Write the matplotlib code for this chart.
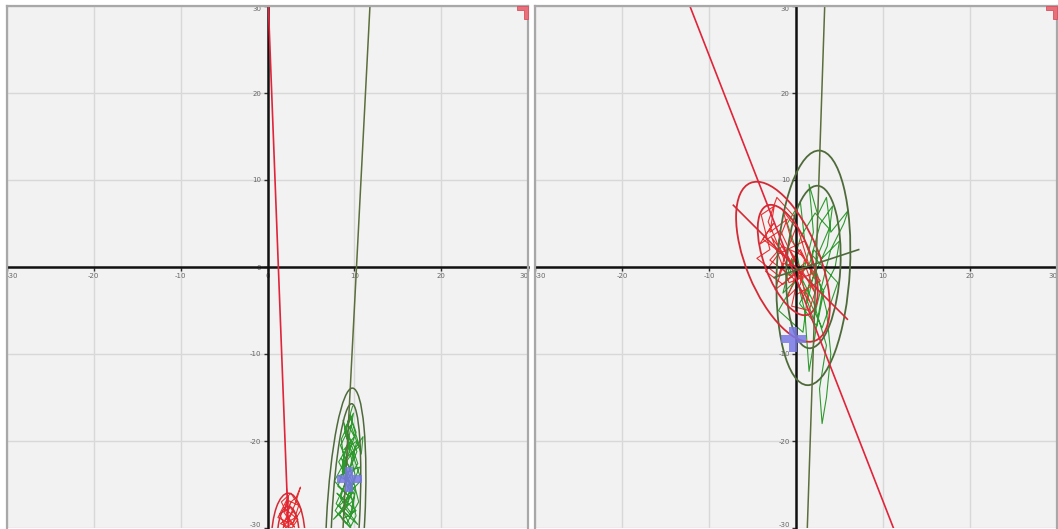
import matplotlib
matplotlib.use("Agg")
import matplotlib.pyplot as plt
from matplotlib.patches import Ellipse, Polygon
from matplotlib.lines import Line2D

# ---- axis setup ----
axis_limit = 30
tick_values = [-30, -20, -10, 0, 10, 20, 30]
tick_labels = ["-30", "-20", "-10", "0", "10", "20", "30"]

# ---- left panel data ----
left_red_line_x = [0.1, 2.4]
left_red_line_y = [30.0, -30.0]
left_green_line_x = [11.8, 8.7]
left_green_line_y = [30.0, -30.0]

left_red_trace_x = [2.2, 2.5, 2.2, 3.0, 1.8, 2.7, 3.3, 3.8, 3.2, 2.6, 1.5, 2.8, 3.5,
                    2.0, 2.4, 1.2, 2.9, 3.6, 2.3, 1.9, 3.1, 2.5, 1.6, 2.7, 3.9, 3.0,
                    2.1, 1.4, 2.6, 3.4, 2.2]
left_red_trace_y = [-25.5, -27.5, -29.0, -28.0, -30.0, -27.0, -26.5, -25.3, -27.2, -28.6,
                    -29.5, -30.0, -29.0, -27.8, -26.4, -28.8, -29.6, -27.4, -26.8, -28.2,
                    -29.9, -28.9, -27.0, -26.0, -27.9, -29.3, -30.0, -28.4, -27.6, -28.7,
                    -29.4]

left_green_trace_x = [9.8, 9.2, 10.0, 8.8, 10.3, 9.5, 8.5, 9.9, 8.2, 10.6, 9.0, 8.0, 10.2,
                      8.6, 9.6, 8.3, 9.4, 10.8, 9.8, 8.9, 9.5, 10.2, 8.6, 9.3, 7.8, 9.1,
                      10.5, 9.7, 8.4, 9.6, 10.8, 11.0, 9.2, 8.1, 9.9, 7.6, 8.8, 10.1,
                      9.4, 8.7, 10.4, 9.0, 7.9, 9.5, 10.0, 8.6, 9.3, 9.9, 8.9, 10.3,
                      9.1, 8.4, 9.7, 10.1, 8.7, 9.5, 8.2, 9.8, 9.0, 10.4, 8.8, 9.4,
                      7.7, 9.2, 10.6, 9.6, 8.5, 9.0, 9.8, 8.3, 9.6, 10.2, 9.3]
left_green_trace_y = [-16.0, -18.0, -19.5, -21.0, -20.0, -23.0, -22.0, -25.0, -24.0,
                      -23.0, -27.0, -26.0, -28.0, -29.0, -30.0, -28.5, -26.0, -24.5,
                      -21.5, -19.0, -17.0, -19.0, -23.5, -25.5, -28.0, -29.5, -27.0,
                      -23.8, -20.5, -18.2, -21.5, -19.5, -22.2, -25.2, -26.8, -29.0,
                      -27.6, -24.0, -20.8, -17.6, -22.6, -24.8, -27.2, -28.8, -26.2,
                      -22.8, -20.0, -16.8, -18.6, -21.2, -24.2, -26.6, -28.4, -25.8,
                      -23.2, -20.2, -22.4, -25.6, -27.8, -29.6, -28.2, -26.4, -24.6,
                      -21.8, -20.6, -17.4, -19.8, -23.6, -26.0, -27.4, -29.8, -28.6,
                      -25.0]

left_blue_x = [9.4]
left_blue_y = [-24.4]

# ellipses: centre x, centre y, width, height, angle
left_ellipses_red = [(2.4, -31.6, 3.9, 11.2, 0.0), (2.4, -31.0, 2.5, 7.0, 0.0)]
left_ellipses_green = [(9.0, -29.0, 4.4, 30.2, -3.0), (9.0, -29.0, 3.2, 26.6, -3.0)]

# ---- right panel data ----
right_red_line_x = [-12.2, 11.2]
right_red_line_y = [30.0, -30.0]
right_green_line_x = [3.3, 1.3]
right_green_line_y = [30.0, -30.0]
right_red_seg_x = [-7.2, 5.9]
right_red_seg_y = [7.1, -6.0]
right_green_seg_x = [-2.5, 7.2]
right_green_seg_y = [-1.2, 2.0]

right_red_trace_x = [-0.5, -2.0, -1.0, -3.0, -2.5, -4.0, -3.0, -4.5, -2.0, -1.0, 0.0,
                     -1.5, -0.5, 1.0, 0.5, -1.0, 0.0, 2.0, 1.0, -2.0, -3.5, -1.5, 0.5,
                     -0.5, 1.5, 2.5, 0.5, -1.0, -3.2, -2.2, -0.2, 1.8, -0.8, -2.8, -1.2,
                     -3.8, -2.6, -4.2, -1.8, 0.8, -0.6, 2.2, 1.2, -1.4, -2.4, 0.2, 1.6,
                     -0.4, -3.0, -1.6, 0.6, 2.8, 0.0]
right_red_trace_y = [0.5, 3.0, 5.5, 4.0, 7.0, 6.0, 2.0, 1.0, -1.0, 2.0, 4.5, 6.5, 3.0,
                     1.0, -2.0, -3.5, -1.0, 0.5, 3.0, 1.5, -0.5, -2.0, 0.0, -4.5, -5.0,
                     -2.0, 2.0, 0.0, 5.2, 8.0, 5.8, -0.8, -1.8, 3.4, 1.2, 3.2, 5.0,
                     2.6, 4.2, -1.4, 1.8, -3.0, -0.2, 0.4, -2.6, -0.6, -4.0, -1.2, 0.8,
                     2.4, 1.4, -1.6, -3.2]

right_green_trace_x = [1.0, 2.0, 1.5, 2.5, 3.5, 4.0, 6.0, 5.5, 4.0, 3.0, 2.0, 1.0, 0.0,
                       -1.0, 0.5, 1.0, 2.5, 3.5, 4.0, 3.5, 3.0, 2.7, 3.5, 2.0, 0.5, -1.5,
                       -0.5, 1.0, 1.5, 2.0, 3.0, 4.5, 5.0, 3.0, 2.0, 0.8, -2.0, -0.3, 1.6,
                       2.8, 4.2, 3.6, 1.8, 0.4, 2.4, 3.2, 1.2, -0.8, 0.6, 2.2, 3.8, 2.6,
                       1.4, 3.0, 4.8, 2.0]
right_green_trace_y = [0.0, 4.0, 9.5, 6.0, 8.0, 4.0, 6.5, 5.0, 2.0, -2.0, -6.0, -3.0,
                       2.0, 5.0, 7.5, 3.0, -1.0, -5.0, -10.0, -15.0, -18.0, -14.0, -9.0,
                       -4.0, -1.0, -3.0, 1.0, -5.0, -12.0, -9.0, -3.0, 0.0, 3.0, 1.0,
                       2.0, -7.5, -5.0, -2.0, 0.5, 5.0, 7.0, 2.4, -1.6, -4.2, -6.8,
                       -2.8, 0.6, -1.0, 3.6, 6.2, 4.4, 1.6, -3.6, -7.0, -1.8, 1.2]

right_blue_x = [-0.3]
right_blue_y = [-8.3]

right_ellipses_red = [(-1.5, 0.6, 19.6, 8.4, -67.6), (-0.95, 0.8, 13.4, 5.4, -69.5)]
right_ellipses_green = [(2.0, -0.1, 8.4, 27.0, -3.0), (2.0, 0.0, 6.2, 18.7, -3.0)]

# ---- styles ----
BG = "#f2f2f2"
GRID = "#d8d8d8"
FRAME = "#a8a8a8"
RED_LINE = "#e0243a"
RED_ELL = "#d42a35"
RED_TRACE = "#e83030"
GREEN_LINE = "#5b6e3c"
GREEN_ELL = "#4f6a3a"
GREEN_TRACE = "#2e9a2e"
BLUE = "#7878e6"

fig = plt.figure(figsize=(10.58, 5.29), dpi=100)
W, H = 1058.0, 529.0
ax_left = fig.add_axes([7 / W, 1 / H, 521 / W, 522 / H])
ax_right = fig.add_axes([535 / W, 1 / H, 522 / W, 522 / H])


def style_axes(ax):
    ax.set_xlim(-axis_limit, axis_limit)
    ax.set_ylim(-axis_limit, axis_limit)
    ax.set_facecolor(BG)
    for side in ("top", "right"):
        ax.spines[side].set_visible(False)
    ax.spines["left"].set_position("zero")
    ax.spines["bottom"].set_position("zero")
    for side in ("left", "bottom"):
        ax.spines[side].set_color("#111111")
        ax.spines[side].set_linewidth(1.8)
        ax.spines[side].set_zorder(3)
    ax.set_xticks(tick_values)
    ax.set_xticklabels(tick_labels)
    ax.set_yticks(tick_values)
    ax.set_yticklabels(tick_labels)
    ax.tick_params(axis="both", direction="out", length=3, width=1, color="#333333",
                   labelsize=5, labelcolor="#666666", pad=1.5)
    xl = ax.get_xticklabels()
    xl[0].set_ha("left")
    xl[-1].set_ha("right")
    yl = ax.get_yticklabels()
    yl[0].set_va("bottom")
    yl[-1].set_va("top")
    ax.grid(True, color=GRID, linewidth=1.0, zorder=0)
    ax.set_axisbelow(True)
    # frame on the top, left and right edges
    for xs, ys in (([0, 1], [1, 1]), ([0, 0], [0, 1]), ([1, 1], [0, 1])):
        ax.add_line(Line2D(xs, ys, transform=ax.transAxes, color=FRAME,
                           linewidth=1.6, clip_on=False, zorder=5))
    # small red badge in the top-right corner
    ax.add_patch(Polygon([(0.978, 1.0), (1.0, 1.0), (1.0, 0.975), (0.993, 0.975),
                          (0.993, 0.993), (0.978, 0.993)],
                         closed=True, transform=ax.transAxes, facecolor="#e8707a",
                         edgecolor="#d85060", linewidth=0.6, clip_on=False, zorder=6))


def add_ellipses(ax, specs, color, lw):
    for cx, cy, w, h, ang in specs:
        ax.add_patch(Ellipse((cx, cy), w, h, angle=ang, fill=False,
                             edgecolor=color, linewidth=lw, zorder=4))


for ax in (ax_left, ax_right):
    style_axes(ax)

# left panel
ax_left.plot(left_green_trace_x, left_green_trace_y, color=GREEN_TRACE, lw=0.8, zorder=2)
ax_left.plot(left_red_trace_x, left_red_trace_y, color=RED_TRACE, lw=0.8, zorder=2)
add_ellipses(ax_left, left_ellipses_green, GREEN_ELL, 1.1)
add_ellipses(ax_left, left_ellipses_red, RED_ELL, 1.1)
ax_left.plot(left_red_line_x, left_red_line_y, color=RED_LINE, lw=1.2, zorder=4)
ax_left.plot(left_green_line_x, left_green_line_y, color=GREEN_LINE, lw=1.1, zorder=4)
ax_left.plot(left_blue_x, left_blue_y, marker="P", markersize=18, color=BLUE,
             markeredgewidth=0, alpha=0.85, linestyle="none", zorder=6)

# right panel
ax_right.plot(right_green_trace_x, right_green_trace_y, color=GREEN_TRACE, lw=0.8, zorder=2)
ax_right.plot(right_red_trace_x, right_red_trace_y, color=RED_TRACE, lw=0.8, zorder=2)
add_ellipses(ax_right, right_ellipses_green, GREEN_ELL, 1.3)
add_ellipses(ax_right, right_ellipses_red, RED_ELL, 1.3)
ax_right.plot(right_red_line_x, right_red_line_y, color=RED_LINE, lw=1.2, zorder=4)
ax_right.plot(right_green_line_x, right_green_line_y, color=GREEN_LINE, lw=1.1, zorder=4)
ax_right.plot(right_red_seg_x, right_red_seg_y, color=RED_ELL, lw=1.2, zorder=4)
ax_right.plot(right_green_seg_x, right_green_seg_y, color=GREEN_ELL, lw=1.2, zorder=4)
ax_right.plot(right_blue_x, right_blue_y, marker="P", markersize=18, color=BLUE,
              markeredgewidth=0, alpha=0.85, linestyle="none", zorder=6)

fig.savefig("out.png", dpi=100, facecolor="white")
